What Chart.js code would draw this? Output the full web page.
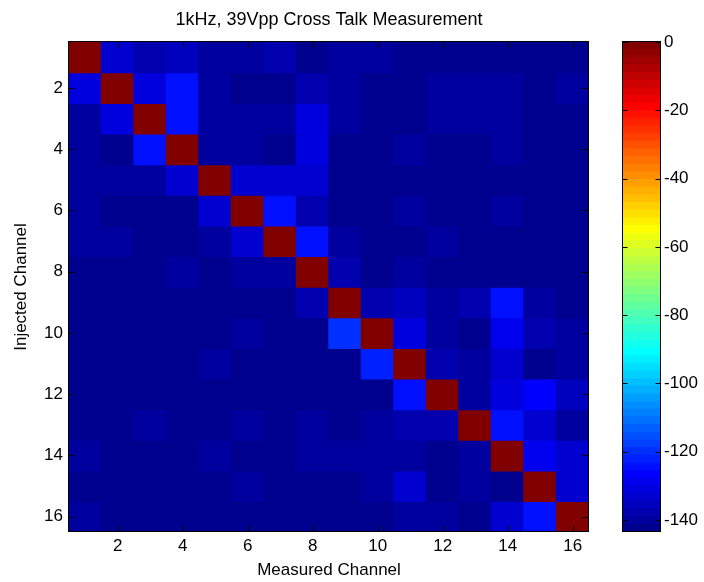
<!DOCTYPE html>
<html>
<head>
<meta charset="utf-8">
<script src="https://cdn.jsdelivr.net/npm/chart.js@4"></script>
<style>
html,body{margin:0;padding:0;background:#fff;}
#wrap{position:relative;width:704px;height:582px;}
canvas{position:absolute;left:0;top:0;}
</style>
</head>
<body>
<div id="wrap">
<canvas id="heat" width="704" height="582"></canvas>
<canvas id="cbar" width="704" height="582"></canvas>
</div>
<script>
const TITLE = '1kHz, 39Vpp Cross Talk Measurement';
const X_LABEL = 'Measured Channel';
const Y_LABEL = 'Injected Channel';
const CHANNELS = [1, 2, 3, 4, 5, 6, 7, 8, 9, 10, 11, 12, 13, 14, 15, 16];
const X_TICKS = [2, 4, 6, 8, 10, 12, 14, 16];
const Y_TICKS = [2, 4, 6, 8, 10, 12, 14, 16];
const CBAR_TICKS = [0, -20, -40, -60, -80, -100, -120, -140];
const C_MIN = -143.5;
const C_MAX = 0;
const N_COLORS = 64;

// cross-talk in dB, row = injected channel, column = measured channel
const ROW_01 = [0, -133.4, -137.9, -135.6, -140.1, -140.3, -137.8, -142.5, -140.0, -140.2, -142.3, -142.6, -142.4, -142.2, -142.5, -142.4];
const ROW_02 = [-131.2, 0, -131.0, -124.4, -140.1, -142.4, -142.6, -137.9, -139.8, -142.3, -142.5, -140.1, -140.2, -140.0, -142.4, -140.1];
const ROW_03 = [-140.2, -131.1, 0, -124.2, -140.0, -140.2, -140.1, -131.2, -140.3, -142.4, -142.2, -140.4, -140.2, -140.1, -142.5, -142.3];
const ROW_04 = [-140.1, -143.5, -123.9, 0, -140.2, -140.0, -142.6, -130.6, -142.4, -142.3, -140.1, -142.5, -142.4, -140.2, -142.3, -142.6];
const ROW_05 = [-140.0, -140.2, -140.3, -133.3, 0, -133.5, -133.4, -133.2, -142.4, -142.3, -142.5, -142.2, -142.4, -142.6, -142.3, -142.4];
const ROW_06 = [-140.2, -142.4, -142.5, -142.7, -133.4, 0, -124.3, -137.8, -142.4, -142.3, -140.2, -142.5, -142.4, -140.1, -142.3, -142.5];
const ROW_07 = [-140.1, -140.3, -142.4, -142.8, -140.0, -133.2, 0, -123.9, -140.2, -142.4, -142.3, -140.1, -142.5, -142.4, -142.2, -142.4];
const ROW_08 = [-142.3, -142.4, -142.2, -140.1, -142.5, -140.2, -140.0, 0, -137.9, -142.4, -140.1, -142.3, -142.5, -142.4, -142.3, -142.4];
const ROW_09 = [-142.4, -142.3, -142.5, -142.4, -142.2, -142.4, -142.3, -137.7, 0, -137.9, -135.6, -140.1, -137.8, -124.4, -140.2, -142.3];
const ROW_10 = [-142.5, -142.4, -142.3, -142.4, -142.5, -140.2, -142.4, -142.3, -120.1, 0, -131.2, -140.1, -142.8, -128.9, -137.9, -140.0];
const ROW_11 = [-142.4, -142.3, -142.5, -142.4, -140.1, -142.3, -142.4, -142.5, -142.3, -122.2, 0, -137.9, -140.2, -133.4, -142.7, -140.1];
const ROW_12 = [-142.3, -142.4, -142.5, -142.3, -142.4, -142.4, -142.5, -142.3, -142.4, -142.6, -124.4, 0, -140.1, -131.2, -126.7, -135.6];
const ROW_13 = [-142.4, -142.3, -140.1, -142.4, -142.5, -140.2, -142.4, -140.1, -142.3, -140.2, -137.9, -137.8, 0, -124.4, -133.4, -140.1];
const ROW_14 = [-140.1, -142.4, -142.3, -142.5, -140.2, -142.4, -142.3, -140.1, -140.2, -140.1, -140.3, -142.5, -140.1, 0, -128.9, -133.4];
const ROW_15 = [-142.4, -142.5, -142.3, -142.4, -142.3, -140.1, -142.4, -142.5, -142.4, -140.2, -133.3, -142.6, -140.1, -142.4, 0, -133.4];
const ROW_16 = [-140.1, -142.4, -142.3, -142.5, -142.4, -142.3, -142.4, -142.5, -142.4, -142.3, -140.1, -140.2, -142.4, -133.4, -124.4, 0];
const MATRIX = [ROW_01, ROW_02, ROW_03, ROW_04, ROW_05, ROW_06, ROW_07, ROW_08,
                ROW_09, ROW_10, ROW_11, ROW_12, ROW_13, ROW_14, ROW_15, ROW_16];

// MATLAB jet(64), i = 1..64
function jet(i) {
  let r, g, b;
  if (i <= 24) r = 0; else if (i <= 40) r = (i - 24) / 16; else if (i <= 56) r = 1; else r = 1 - (i - 56) / 16;
  if (i <= 8) g = 0; else if (i <= 24) g = (i - 8) / 16; else if (i <= 40) g = 1; else if (i <= 56) g = 1 - (i - 40) / 16; else g = 0;
  if (i <= 8) b = 0.5 + i / 16; else if (i <= 24) b = 1; else if (i <= 40) b = 1 - (i - 24) / 16; else b = 0;
  return 'rgb(' + Math.round(r * 255) + ',' + Math.round(g * 255) + ',' + Math.round(b * 255) + ')';
}
function colorFor(v) {
  let i = Math.floor((v - C_MIN) / (C_MAX - C_MIN) * N_COLORS) + 1;
  i = Math.max(1, Math.min(N_COLORS, i));
  return jet(i);
}

const frameTicks = {
  id: 'frameTicks',
  afterDatasetsDraw(chart, args, o) {
    const {ctx, chartArea: a} = chart;
    const len = o.len || 6;
    ctx.save();
    ctx.strokeStyle = '#000';
    ctx.lineWidth = 1;
    const L = Math.round(a.left) - 0.5, R = Math.round(a.right) - 0.5;
    const T = Math.round(a.top) - 0.5, B = Math.round(a.bottom) - 0.5;
    ctx.strokeRect(L, T, R - L, B - T);
    ctx.beginPath();
    if (o.xTicks) {
      const s = chart.scales.x;
      s.ticks.forEach(t => {
        const p = Math.round(s.getPixelForValue(t.value)) + 0.5;
        ctx.moveTo(p, B); ctx.lineTo(p, B - len);
        ctx.moveTo(p, T); ctx.lineTo(p, T + len);
      });
    }
    if (o.yTicks) {
      const s = chart.scales.y;
      s.ticks.forEach(t => {
        const p = Math.round(s.getPixelForValue(t.value)) + 0.5;
        ctx.moveTo(L, p); ctx.lineTo(L + len, p);
        ctx.moveTo(R, p); ctx.lineTo(R - len, p);
      });
    }
    ctx.stroke();
    ctx.restore();
  }
};

Chart.defaults.font.family = "'Liberation Sans', Arial, sans-serif";
Chart.defaults.font.size = 17;
Chart.defaults.color = '#000';

new Chart(document.getElementById('heat'), {
  type: 'bar',
  data: {
    datasets: MATRIX.map((row, r) => ({
      label: 'Injected ' + CHANNELS[r],
      data: row.map((v, c) => ({x: CHANNELS[c], y: [CHANNELS[r] - 0.5, CHANNELS[r] + 0.5]})),
      backgroundColor: row.map(colorFor),
      borderWidth: 0,
      inflateAmount: 0.7,
      grouped: false,
      barPercentage: 1,
      categoryPercentage: 1
    }))
  },
  plugins: [frameTicks],
  options: {
    responsive: false,
    animation: false,
    events: [],
    layout: {padding: {left: 0, right: 115, top: 0, bottom: 0}},
    plugins: {
      legend: {display: false},
      tooltip: {enabled: false},
      title: {display: true, text: TITLE, fullSize: false, color: '#000',
              font: {size: 18, weight: 'normal'}, padding: {top: 9, bottom: 11.4}},
      frameTicks: {xTicks: true, yTicks: true, len: 6}
    },
    scales: {
      x: {
        type: 'linear', min: 0.5, max: 16.5, offset: false,
        grid: {display: false, drawTicks: false}, border: {display: false},
        afterBuildTicks: s => { s.ticks = X_TICKS.map(v => ({value: v})); },
        afterFit: s => { s.height = 50; },
        ticks: {padding: 4, maxRotation: 0, autoSkip: false},
        title: {display: true, text: X_LABEL, padding: {top: 0, bottom: 1}}
      },
      y: {
        type: 'linear', reverse: true, min: 0.5, max: 16.5,
        grid: {display: false, drawTicks: false}, border: {display: false},
        afterBuildTicks: s => { s.ticks = Y_TICKS.map(v => ({value: v})); },
        afterFit: s => { s.width = 69; },
        ticks: {padding: 6, autoSkip: false},
        title: {display: true, text: Y_LABEL, padding: {top: 11, bottom: 0}}
      }
    }
  }
});

const BAND_STEP = (C_MAX - C_MIN) / N_COLORS;
const BANDS = Array.from({length: N_COLORS}, (_, k) => ({
  lo: C_MIN + k * BAND_STEP, hi: C_MIN + (k + 1) * BAND_STEP, color: jet(k + 1)
}));

new Chart(document.getElementById('cbar'), {
  type: 'bar',
  data: {
    labels: ['colorbar'],
    datasets: BANDS.map(b => ({
      data: [[b.lo, b.hi]], backgroundColor: b.color, borderWidth: 0, inflateAmount: 0.7,
      grouped: false, barPercentage: 1, categoryPercentage: 1
    }))
  },
  plugins: [frameTicks],
  options: {
    responsive: false,
    animation: false,
    events: [],
    layout: {padding: {left: 623, right: 0, top: 42, bottom: 50}},
    plugins: {
      legend: {display: false},
      tooltip: {enabled: false},
      title: {display: false},
      frameTicks: {xTicks: false, yTicks: true, len: 5}
    },
    scales: {
      x: {display: false},
      y: {
        position: 'right', min: C_MIN, max: C_MAX,
        grid: {display: false, drawTicks: false}, border: {display: false},
        afterBuildTicks: s => { s.ticks = CBAR_TICKS.map(v => ({value: v})); },
        afterFit: s => { s.width = 43; },
        ticks: {padding: 3, autoSkip: false}
      }
    }
  }
});
</script>
</body>
</html>
